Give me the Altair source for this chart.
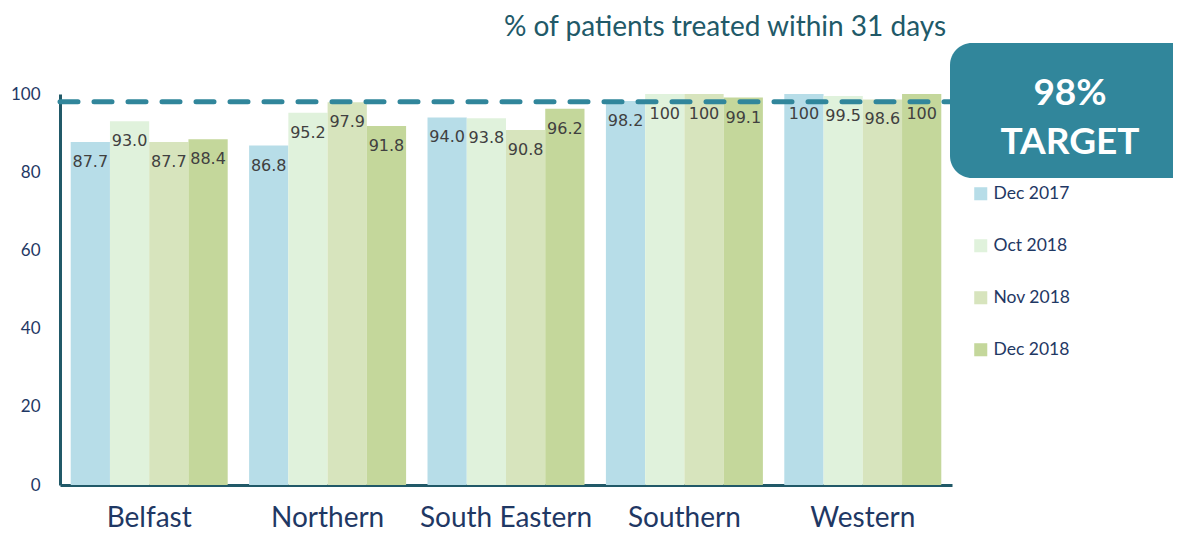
import altair as alt
import pandas as pd

regions = ["Belfast", "Northern", "South Eastern", "Southern", "Western"]
periods = ["Dec 2017", "Oct 2018", "Nov 2018", "Dec 2018"]
dec2017 = [87.7, 86.8, 94.0, 98.2, 100]
oct2018 = [93.0, 95.2, 93.8, 100, 99.5]
nov2018 = [87.7, 97.9, 90.8, 100, 98.6]
dec2018 = [88.4, 91.8, 96.2, 99.1, 100]
colors = ["#b7dde8", "#e0f2dc", "#d7e4bd", "#c4d79b"]
target = 98
title_text = "% of patients treated within 31 days"

rows = []
for p, vals in zip(periods, [dec2017, oct2018, nov2018, dec2018]):
    for r, v in zip(regions, vals):
        lab = "100" if v == 100 else f"{v:.1f}"
        rows.append({"region": r, "period": p, "value": v, "label": lab})
df = pd.DataFrame(rows)

W, H = 892, 391

xenc = alt.X("region:N", sort=regions, title=None,
             scale=alt.Scale(paddingInner=0.12, paddingOuter=0.06),
             axis=alt.Axis(labelAngle=0, labelFontSize=28, labelColor="#1f3864",
                           labelFont="Lato", labelPadding=19, ticks=False,
                           domainColor="#215968", domainWidth=3))
yenc = alt.Y("value:Q", title=None,
             scale=alt.Scale(domain=[0, 100]),
             axis=alt.Axis(values=[0, 20, 40, 60, 80, 100], grid=False, ticks=False,
                           labelFontSize=17, labelColor="#1f3864", labelFont="Lato",
                           labelPadding=20, domainColor="#215968", domainWidth=3))

bars = alt.Chart(df).mark_bar().encode(
    x=xenc,
    xOffset=alt.XOffset("period:N", sort=periods),
    y=yenc,
    color=alt.Color("period:N", sort=periods,
                    scale=alt.Scale(domain=periods, range=colors),
                    legend=alt.Legend(title=None, orient="none", legendX=912, legendY=91,
                                      symbolType="square", symbolSize=170,
                                      symbolStrokeWidth=0,
                                      labelFontSize=17.5, labelColor="#1f3864",
                                      labelFont="Lato", rowPadding=33, labelOffset=4)),
)

labels = alt.Chart(df).mark_text(baseline="top", dy=12, fontSize=16, color="#404040",
                                 font="DejaVu Sans").encode(
    x=alt.X("region:N", sort=regions),
    xOffset=alt.XOffset("period:N", sort=periods),
    y="value:Q",
    text="label:N",
)

tdf = pd.DataFrame({"target": [target], "title": [title_text]})
rule = alt.Chart(tdf).mark_rule(color="#31869b", strokeWidth=5, strokeDash=[18, 16],
                                strokeCap="round").encode(
    y="target:Q", x=alt.value(0), x2=alt.value(W + 4))

box = alt.Chart(tdf).mark_rect(color="#31869b", cornerRadius=22).encode(
    x=alt.value(890), x2=alt.value(1140), y=alt.value(-51), y2=alt.value(84))

boxtext1 = alt.Chart(tdf).mark_text(text="98%", color="white", fontSize=37,
                                    fontWeight="bold", font="Lato").encode(
    x=alt.value(1010), y=alt.value(0))
boxtext2 = alt.Chart(tdf).mark_text(text="TARGET", color="white", fontSize=37,
                                    fontWeight="bold", font="Lato").encode(
    x=alt.value(1010), y=alt.value(49))

title = alt.Chart(tdf).mark_text(fontSize=28, font="Lato", color="#215968").encode(
    x=alt.value(665), y=alt.value(-66), text="title:N")

chart = alt.layer(bars, labels, rule, box, boxtext1, boxtext2, title).properties(
    width=W, height=H,
    autosize=alt.AutoSizeParams(type="none"),
    padding={"left": 52, "top": 86, "right": 221, "bottom": 47},
).configure_view(stroke=None)

chart.save("out.html", embed_options={"renderer": "svg", "actions": False})
